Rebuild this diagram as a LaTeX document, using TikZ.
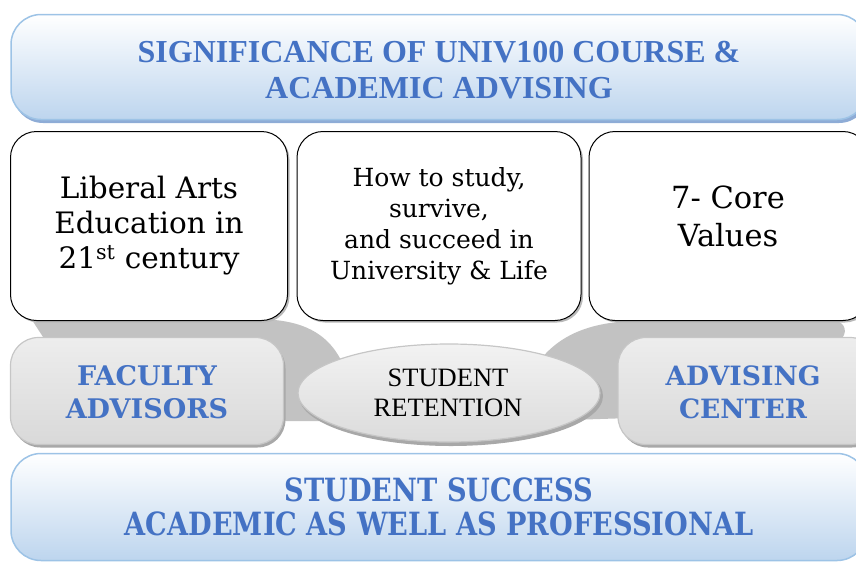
\documentclass[tikz,border=0pt]{standalone}
\usepackage{fontspec}
\setmainfont{Liberation Serif}
\newfontfamily\timesfont{Liberation Serif}
\newfontfamily\bkfont{DejaVu Serif}
\newfontfamily\condfont[FakeStretch=0.85]{DejaVu Serif}
\usetikzlibrary{shapes.geometric}
\definecolor{txtblue}{HTML}{4472C4}
\definecolor{bluebord}{HTML}{9DC3E6}
\definecolor{blueshade}{HTML}{BDD5EE}
\definecolor{blueshadow}{HTML}{8EACD6}
\definecolor{graybg}{HTML}{C2C2C2}
\definecolor{grayshadow}{HTML}{A8A8A8}
\tikzset{
  bluebox/.style={draw=bluebord, line width=1.5pt, rounded corners=30pt, top color=white, bottom color=blueshade, inner sep=0pt},
  blueshadowbox/.style={fill=blueshadow, rounded corners=30pt, inner sep=0pt},
  whitebox/.style={draw=black, line width=1pt, rounded corners=26pt, fill=white, inner sep=0pt},
  whiteshadow/.style={fill=gray!55, rounded corners=26pt, inner sep=0pt},
  graybox/.style={draw=gray!45, line width=1.2pt, rounded corners=28pt, top color=gray!14, bottom color=gray!30, inner sep=0pt},
  grayshadowbox/.style={fill=grayshadow, rounded corners=28pt, inner sep=0pt},
  bluetext/.style={text=txtblue, align=center},
}
\begin{document}
\begin{tikzpicture}[x=1pt,y=-1pt]
\useasboundingbox (0,0) rectangle (856,563);
% top box
\node[blueshadowbox, minimum width=856pt, minimum height=106pt] (topsh) at (441,70) {};
\node[bluebox, minimum width=856pt, minimum height=105pt] (top) at (439,67) {};
\node[bluetext, font=\timesfont\bfseries\fontsize{32}{36}\selectfont] (title) at (439,70)
  {SIGNIFICANCE OF UNIV100 COURSE \&\\ACADEMIC ADVISING};
% gray background band
\fill[graybg] (32,320) -- (275,320) .. controls (315,324) and (332,342) .. (342,362)
  -- (342,421) -- (270,421) -- (45,340) -- cycle;
\fill[graybg] (540,421) -- (540,360) .. controls (560,335) and (590,322) .. (635,321)
  -- (835,321) .. controls (846,322) and (848,334) .. (840,340) -- (630,418) -- cycle;
% three white boxes
\node[whiteshadow, minimum width=277pt, minimum height=189pt] (b1s) at (151,228) {};
\node[whitebox, minimum width=277pt, minimum height=189pt] (b1) at (149,226) {};
\node[align=center, font=\bkfont\fontsize{29.5}{35}\selectfont] (t1) at (149,226)
  {Liberal Arts\\Education in\\21\textsuperscript{st} century};
\node[whiteshadow, minimum width=284pt, minimum height=189pt] (b2s) at (441,228) {};
\node[whitebox, minimum width=284pt, minimum height=189pt] (b2) at (439,226) {};
\node[align=center, font=\bkfont\fontsize{25}{31}\selectfont] (t2) at (439,226)
  {How to study,\\survive,\\and succeed in\\University \& Life};
\node[whiteshadow, minimum width=280pt, minimum height=189pt] (b3s) at (731,228) {};
\node[whitebox, minimum width=280pt, minimum height=189pt] (b3) at (729,226) {};
\node[align=center, font=\bkfont\fontsize{30.5}{38}\selectfont] (t3) at (728,216)
  {7- Core\\Values};
% faculty / advising
\node[grayshadowbox, minimum width=273pt, minimum height=107pt] (fsh) at (149,394) {};
\node[graybox, minimum width=273pt, minimum height=107pt] (fac) at (147,391) {};
\node[bluetext, font=\bkfont\bfseries\fontsize{27}{33}\selectfont] (ft) at (147,392)
  {FACULTY\\ADVISORS};
\node[grayshadowbox, minimum width=260pt, minimum height=107pt] (ash) at (750,394) {};
\node[graybox, minimum width=260pt, minimum height=107pt] (adv) at (748,391) {};
\node[bluetext, font=\bkfont\bfseries\fontsize{26.6}{33}\selectfont] (at) at (743,392)
  {ADVISING\\CENTER};
% ellipse
\node[ellipse, fill=grayshadow, minimum width=304pt, minimum height=100pt, inner sep=0pt] (esh) at (451,396) {};
\node[ellipse, draw=gray!45, line width=1.2pt, top color=gray!10, bottom color=gray!28, minimum width=302pt, minimum height=98pt, inner sep=0pt] (ell) at (449,393) {};
\node[align=center, font=\timesfont\fontsize{26.5}{30}\selectfont] (et) at (448,393)
  {STUDENT\\RETENTION};
% bottom box
\node[bluebox, minimum width=856pt, minimum height=107pt] (bot) at (439,507) {};
\node[bluetext, font=\condfont\bfseries\fontsize{32}{34}\selectfont] (bt) at (439,507)
  {STUDENT SUCCESS\\ACADEMIC AS WELL AS PROFESSIONAL};
\end{tikzpicture}
\end{document}
